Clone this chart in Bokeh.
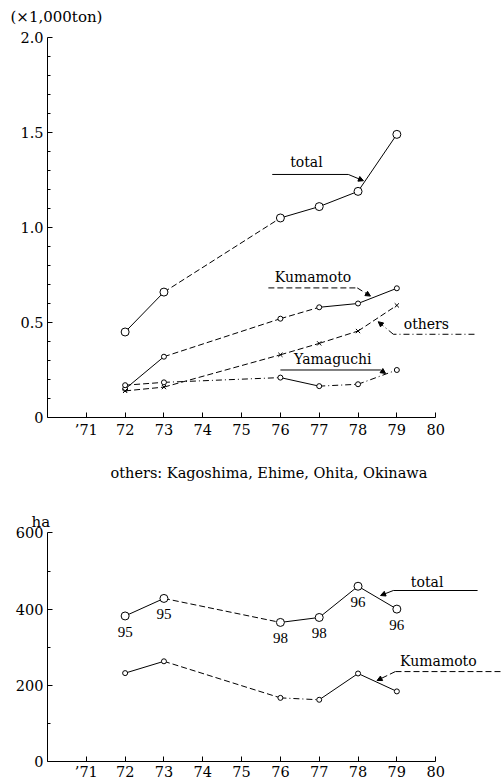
from bokeh.plotting import figure
from bokeh.layouts import column
from bokeh.models import (ColumnDataSource, FixedTicker, Label, LabelSet, Arrow,
                          NormalHead, Range1d, Title)
from bokeh.embed import file_html
from bokeh.resources import INLINE

# ---------------- data ----------------
years = [72, 73, 76, 77, 78, 79]

top_total = [0.45, 0.66, 1.05, 1.11, 1.19, 1.49]
top_kumamoto = [0.15, 0.32, 0.52, 0.58, 0.60, 0.68]
top_yamaguchi = [0.17, 0.185, 0.21, 0.165, 0.175, 0.25]
top_others = [0.14, 0.16, 0.33, 0.39, 0.455, 0.59]

bottom_total = [382, 428, 365, 378, 460, 400]
bottom_kumamoto = [232, 263, 167, 162, 231, 184]
bottom_share = [95, 95, 98, 98, 96, 96]

x_ticks = [71, 72, 73, 74, 75, 76, 77, 78, 79, 80]
x_tick_labels = ["\u201971", "72", "73", "74", "75", "76", "77", "78", "79", "80"]
top_y_ticks = [0, 0.5, 1.0, 1.5, 2.0]
top_y_labels = ["0", "0.5", "1.0", "1.5", "2.0"]
top_y_minor = [0.1, 0.2, 0.3, 0.4, 0.6, 0.7, 0.8, 0.9, 1.1, 1.2, 1.3, 1.4, 1.6, 1.7, 1.8, 1.9]
bottom_y_ticks = [0, 200, 400, 600]
bottom_y_labels = ["0", "200", "400", "600"]
bottom_y_minor = [100, 300, 500]

caption = "others: Kagoshima, Ehime, Ohita, Okinawa"
top_unit = "(\u00d71,000ton)"
bottom_unit = "ha"

# ---------------- styles ----------------
SOLID = "solid"
DASH = "6 3"
DASHDOT = "6 3 1 3"
top_total_dash = [SOLID, DASH, SOLID, SOLID, SOLID]
top_kumamoto_dash = [SOLID, DASH, DASH, SOLID, SOLID]
top_others_dash = [DASH, DASH, DASH, DASH, DASH]
top_yamaguchi_dash = [DASH, DASHDOT, SOLID, DASHDOT, DASHDOT]
bottom_total_dash = [SOLID, DASH, SOLID, SOLID, SOLID]
bottom_kumamoto_dash = [SOLID, DASH, DASHDOT, SOLID, SOLID]

TICK_FONT = "DejaVu Serif"
LABEL_FONT = "DejaVu Serif"
VALUE_FONT = "Liberation Sans"

X_START, X_END = 70, 81.696


def style_axes(p, yticks, ylabels, yminor, ybounds, xstandoff):
    p.xaxis.ticker = FixedTicker(ticks=x_ticks)
    p.xaxis.major_label_overrides = {t: l for t, l in zip(x_ticks, x_tick_labels)}
    p.xaxis.bounds = (X_START, 80)
    p.yaxis.ticker = FixedTicker(ticks=yticks, minor_ticks=yminor)
    p.yaxis.major_label_overrides = {t: l for t, l in zip(yticks, ylabels)}
    p.yaxis.bounds = ybounds
    for ax in (p.xaxis, p.yaxis):
        ax.axis_line_color = "black"
        ax.axis_line_width = 1
        ax.major_tick_in = 5
        ax.major_tick_out = 0
        ax.minor_tick_in = 3
        ax.minor_tick_out = 0
        ax.major_tick_line_color = "black"
        ax.minor_tick_line_color = "black"
        ax.major_label_text_font = TICK_FONT
        ax.major_label_text_font_size = "14.5px"
        ax.major_label_text_color = "black"
    p.xaxis.minor_tick_line_color = None
    p.xaxis.major_label_standoff = xstandoff
    p.yaxis.major_label_standoff = 4
    p.xgrid.visible = False
    p.ygrid.visible = False
    p.outline_line_color = None


def draw_series(p, xs, ys, dashes, marker, size):
    for i in range(len(xs) - 1):
        p.line([xs[i], xs[i + 1]], [ys[i], ys[i + 1]], line_color="black",
               line_width=1, line_dash=dashes[i])
    if marker == "x":
        p.scatter(xs, ys, marker="x", size=size, line_color="black", line_width=1)
    else:
        p.scatter(xs, ys, marker="circle", size=size, line_color="black",
                  fill_color="white", line_width=1)


def text(p, x, y, t, size="14px", align="center", font=LABEL_FONT):
    p.add_layout(Label(x=x, y=y, text=t, text_font=font, text_font_size=size,
                       text_align=align, text_baseline="middle", text_color="black"))


def leader(p, xs, ys, end, dash):
    p.line(xs, ys, line_color="black", line_width=1, line_dash=dash)
    p.add_layout(Arrow(end=NormalHead(size=5, fill_color="black", line_color="black"),
                       x_start=xs[-1], y_start=ys[-1], x_end=end[0], y_end=end[1],
                       line_color="black", line_width=1, line_dash=dash))


def title(text_, offset, standoff, size="15px"):
    return Title(text=text_, align="left", offset=offset, standoff=standoff,
                 text_font=LABEL_FONT, text_font_size=size, text_font_style="normal",
                 text_color="black", vertical_align="bottom")


# ---------------- top chart ----------------
top = figure(width=501, height=508, output_backend="svg", toolbar_location=None,
             x_range=Range1d(X_START, X_END), y_range=Range1d(0, 389 / 191),
             min_border_left=47, min_border_right=0, min_border_top=28,
             min_border_bottom=91, background_fill_color="white",
             border_fill_color="white")
style_axes(top, top_y_ticks, top_y_labels, top_y_minor, (0, 2.0), 4)
top.add_layout(title(top_unit, -37, 10), "above")
top.add_layout(title(caption, 63, 44, "14.5px"), "below")

draw_series(top, years, top_total, top_total_dash, "o", 8)
draw_series(top, years, top_kumamoto, top_kumamoto_dash, "o", 5)
draw_series(top, years, top_others, top_others_dash, "x", 6)
draw_series(top, years, top_yamaguchi, top_yamaguchi_dash, "o", 5)

text(top, 76.67, 1.342, "total")
text(top, 76.84, 0.738, "Kumamoto")
text(top, 79.76, 0.494, "others")
text(top, 77.35, 0.307, "Yamaguchi")

leader(top, [75.79, 77.75], [1.279, 1.279], (78.14, 1.246), SOLID)
leader(top, [75.69, 77.98], [0.682, 0.682], (78.32, 0.639), DASH)
leader(top, [81.0, 78.91], [0.438, 0.438], (78.52, 0.504), DASHDOT)
leader(top, [76.0, 78.58], [0.25, 0.25], (78.71, 0.232), SOLID)

# ---------------- bottom chart ----------------
bot = figure(width=501, height=276, output_backend="svg", toolbar_location=None,
             x_range=Range1d(X_START, X_END), y_range=Range1d(0, 231 / 0.381),
             min_border_left=47, min_border_right=0, min_border_top=22,
             min_border_bottom=23, background_fill_color="white",
             border_fill_color="white")
style_axes(bot, bottom_y_ticks, bottom_y_labels, bottom_y_minor, (0, 600), 2)
bot.add_layout(title(bottom_unit, -16, 0), "above")

draw_series(bot, years, bottom_total, bottom_total_dash, "o", 8)
draw_series(bot, years, bottom_kumamoto, bottom_kumamoto_dash, "o", 5)

src = ColumnDataSource(dict(x=years, y=bottom_total, t=[str(v) for v in bottom_share]))
bot.add_layout(LabelSet(x="x", y="y", text="t", source=src, y_offset=-16,
                        text_align="center", text_baseline="middle",
                        text_font=VALUE_FONT, text_font_size="15px", text_color="black"))

text(bot, 79.78, 470.6, "total")
text(bot, 80.07, 265, "Kumamoto")
leader(bot, [81.08, 78.91], [448.8, 448.8], (78.58, 435.7), SOLID)
leader(bot, [81.67, 78.96], [236, 236], (78.49, 212.6), DASH)

layout = column(top, bot, spacing=0)
open("out.html", "w").write(file_html(layout, INLINE))
